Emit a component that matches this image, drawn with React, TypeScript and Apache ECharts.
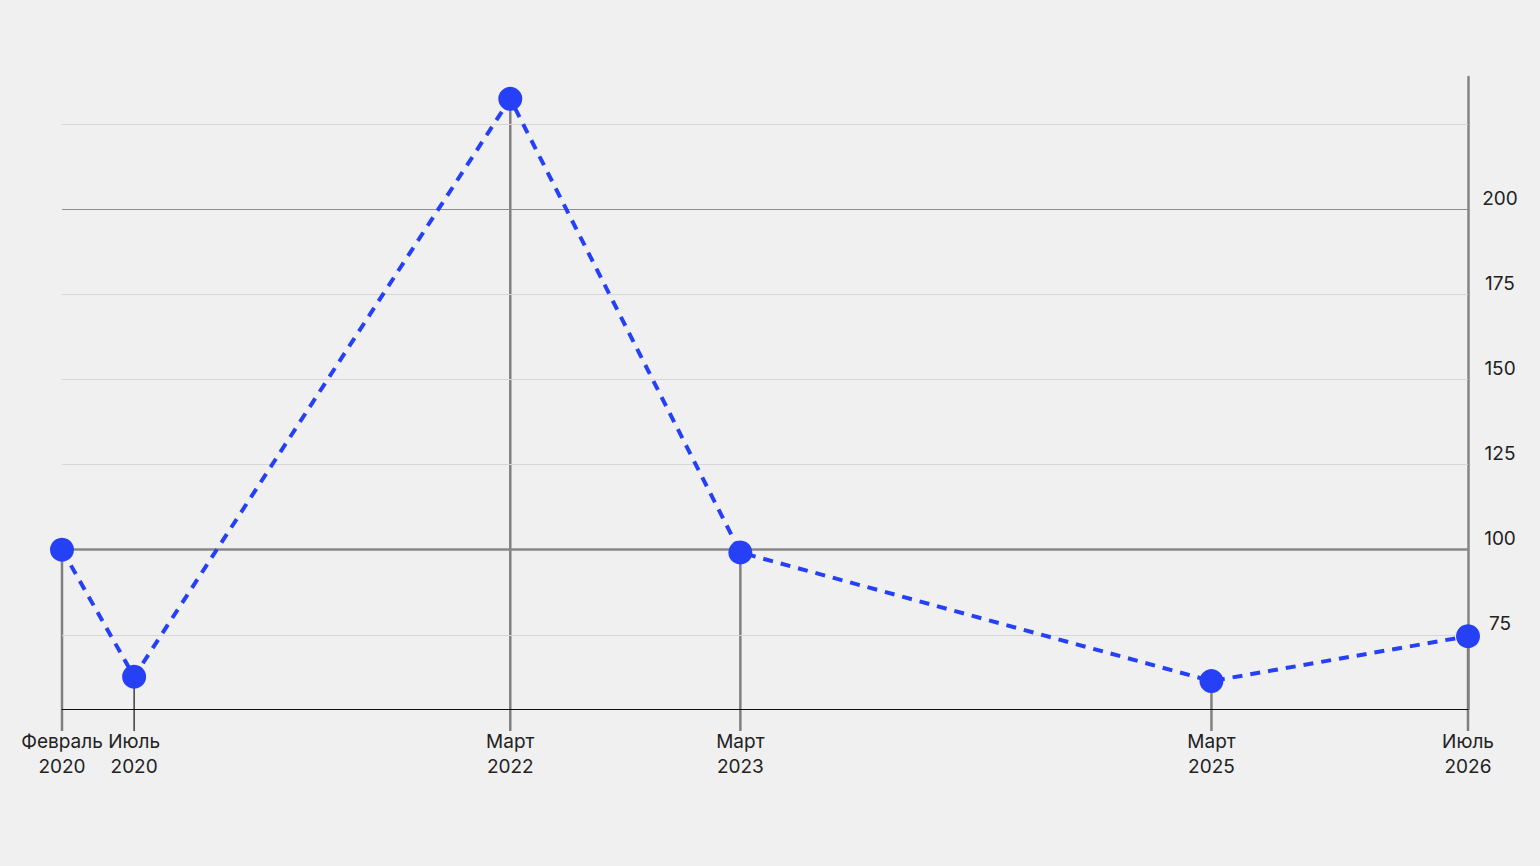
import React, { useEffect, useRef } from "react";
import * as echarts from "echarts";

const xLabels = ["Февраль\n2020", "Июль\n2020", "Март\n2022", "Март\n2023", "Март\n2025", "Июль\n2026"];
// horizontal positions of the points, in months from the first point, as drawn
const xPositions = [0, 3.95, 24.55, 37.15, 62.95, 77];
const values = [100, 62.7, 232.5, 99.2, 61.4, 74.6];
const yTickLabels = [75, 100, 125, 150, 175, 200];
const lightGrid = [75, 125, 150, 175, 225];
const mediumGrid = [200];
const strongGrid = [100];

const Y_MIN = 53.2;
const Y_MAX = 238.9;

export default function App() {
  const ref = useRef<HTMLDivElement>(null);

  useEffect(() => {
    document.body.style.margin = "0";
    const chart = echarts.init(ref.current!, null, { renderer: "svg" });
    const font = "Inter, 'Noto Sans', sans-serif";
    const points = xPositions.map((x, i) => [x, values[i]]);

    const markData = [
      ...lightGrid.map((v) => ({ yAxis: v, lineStyle: { color: "#d6d6d6", width: 1, type: "solid" } })),
      ...mediumGrid.map((v) => ({ yAxis: v, lineStyle: { color: "#8e8e8e", width: 1, type: "solid" } })),
      ...strongGrid.map((v) => ({ yAxis: v, lineStyle: { color: "#888888", width: 2.5, type: "solid" } })),
    ];

    chart.setOption({
      animation: false,
      backgroundColor: "#f0f0f0",
      grid: { left: 62, right: 72, top: 77, bottom: 157, containLabel: false },
      xAxis: {
        type: "value",
        min: 0,
        max: 77,
        z: 5,
        axisLine: { show: true, onZero: false, lineStyle: { color: "#111", width: 1 } },
        axisTick: { show: false },
        splitLine: { show: false },
        axisLabel: {
          customValues: xPositions,
          margin: 20,
          color: "#222",
          fontFamily: font,
          fontSize: 19,
          lineHeight: 25,
          align: "center",
          formatter: (v: number) => {
            let best = 0;
            xPositions.forEach((p, i) => {
              if (Math.abs(p - v) < Math.abs(xPositions[best] - v)) best = i;
            });
            return xLabels[best];
          },
        },
      },
      yAxis: {
        type: "value",
        position: "right",
        min: Y_MIN,
        max: Y_MAX,
        axisLine: { show: true, onZero: false, lineStyle: { color: "#858585", width: 2.5 } },
        axisTick: { show: false },
        splitLine: { show: false },
        axisLabel: {
          customValues: yTickLabels,
          margin: 32,
          align: "center",
          verticalAlign: "bottom",
          lineHeight: 22,
          color: "#222",
          fontFamily: font,
          fontSize: 19,
        },
      },
      series: [
        {
          type: "custom",
          z: 1,
          silent: true,
          data: points,
          renderItem: (params: any, api: any) => {
            const x = api.value(0);
            const y = api.value(1);
            const top = api.coord([x, y]);
            const bottom = api.coord([x, Y_MIN]);
            const thin = params.dataIndex === 1;
            return {
              type: "line",
              shape: { x1: top[0], y1: top[1], x2: bottom[0], y2: bottom[1] + 22 },
              style: { stroke: thin ? "#111" : "#808080", lineWidth: thin ? 1.2 : 2.5 },
            };
          },
          markLine: {
            silent: true,
            symbol: ["none", "none"],
            label: { show: false },
            data: markData,
          },
        },
        {
          type: "line",
          z: 10,
          data: points,
          symbol: "circle",
          symbolSize: 24,
          itemStyle: { color: "#2540f5" },
          lineStyle: { color: "#2540f5", width: 4, type: [10, 8] },
        },
      ],
    });
    return () => chart.dispose();
  }, []);

  return <div ref={ref} style={{ width: 1540, height: 866 }} />;
}
